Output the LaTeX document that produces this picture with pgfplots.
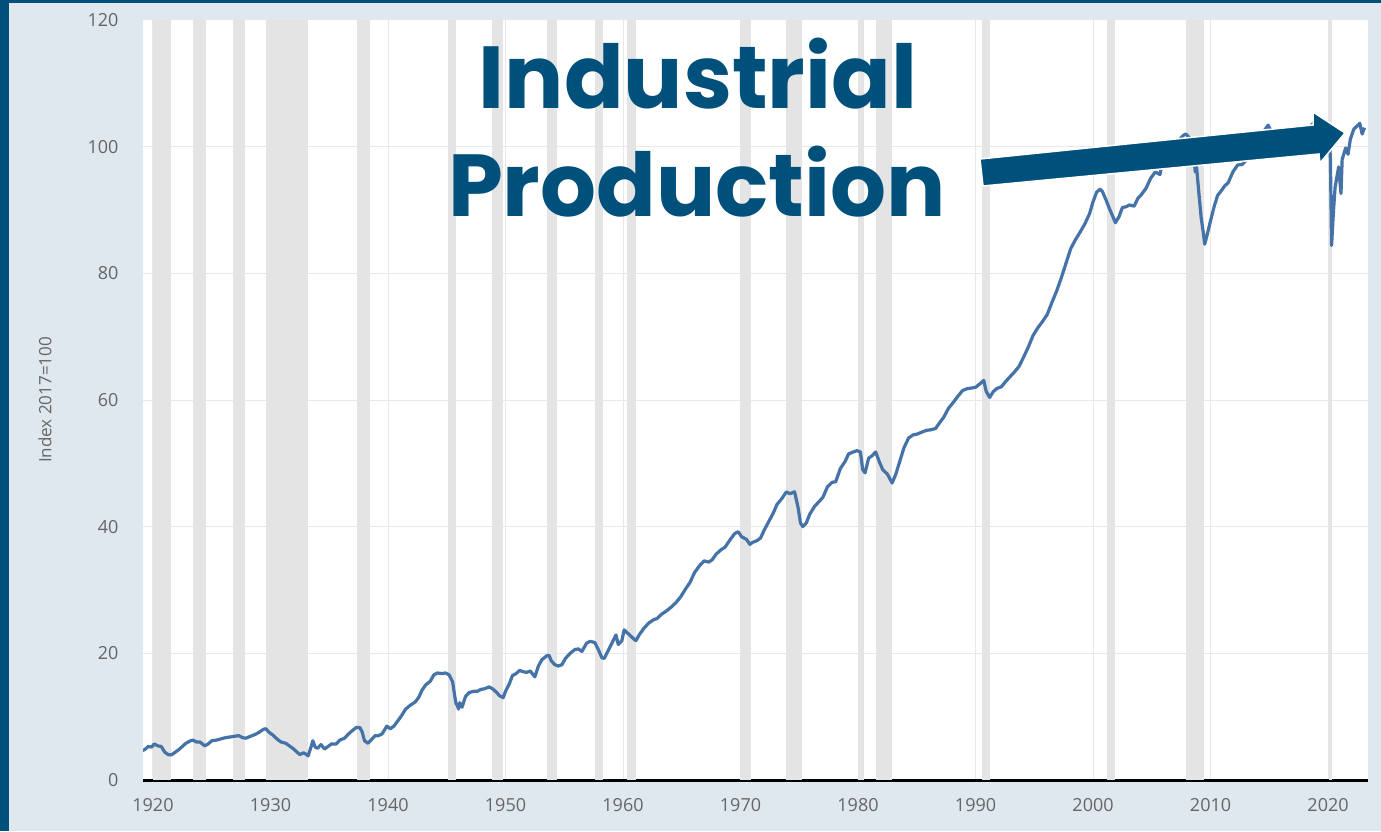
\documentclass[border=0pt]{standalone}
\usepackage{fontspec}
\setmainfont{Open Sans}
\newfontfamily\titlefont{Poppins}
\usepackage{pgfplots}
\pgfplotsset{compat=1.18}

\definecolor{bgblue}{HTML}{DFE7EF}
\definecolor{navy}{HTML}{00507C}
\definecolor{band}{HTML}{E4E4E4}
\definecolor{gridc}{HTML}{E8E8E8}
\definecolor{linec}{HTML}{4572A7}
\definecolor{tickc}{HTML}{666666}

\pgfplotsset{band/.style={fill=band, draw=none, forget plot}}

\begin{document}
\begin{tikzpicture}[x=1pt,y=1pt]
\useasboundingbox (0,0) rectangle (1381,831);
\fill[bgblue] (0,0) rectangle (1381,831);
\fill[navy] (0,0) rectangle (9,831);
\fill[navy] (0,828) rectangle (1381,831);

\begin{axis}[
    at={(143pt,51pt)}, anchor=south west,
    scale only axis, width=1225pt, height=760pt,
    xmin=1919.15, xmax=2023.4, ymin=0, ymax=120,
    axis background/.style={fill=white},
    axis x line*=bottom, axis y line*=left,
    x axis line style={black, line width=3pt, -},
    y axis line style={draw=none},
    xtick={1920,1930,...,2020}, ytick={0,20,...,120},
    tick align=outside,
    major tick length=15pt,
    xtick style={draw=gridc, line width=1pt},
    ytick style={draw=none},
    xmajorgrids, ymajorgrids,
    grid style={gridc, line width=1pt},
    tick label style={font=\fontsize{18}{20}\selectfont, text=tickc},
    xticklabel style={/pgf/number format/1000 sep={}},
    yticklabel style={xshift=-6pt},
    /pgf/number format/assume math mode=true,
    ylabel={Index 2017=100},
    every axis y label/.style={at={(axis description cs:-0.08,0.5)}, rotate=90, anchor=center,
        font=\fontsize{17}{19}\selectfont, text=tickc},
]
% recession bands (NBER)
\addplot[band] coordinates {(1920.00,0)(1920.00,120)(1921.55,120)(1921.55,0)} --cycle;
\addplot[band] coordinates {(1923.37,0)(1923.37,120)(1924.55,120)(1924.55,0)} --cycle;
\addplot[band] coordinates {(1926.80,0)(1926.80,120)(1927.87,120)(1927.87,0)} --cycle;
\addplot[band] coordinates {(1929.62,0)(1929.62,120)(1933.20,120)(1933.20,0)} --cycle;
\addplot[band] coordinates {(1937.37,0)(1937.37,120)(1938.45,120)(1938.45,0)} --cycle;
\addplot[band] coordinates {(1945.10,0)(1945.10,120)(1945.80,120)(1945.80,0)} --cycle;
\addplot[band] coordinates {(1948.87,0)(1948.87,120)(1949.80,120)(1949.80,0)} --cycle;
\addplot[band] coordinates {(1953.53,0)(1953.53,120)(1954.37,120)(1954.37,0)} --cycle;
\addplot[band] coordinates {(1957.62,0)(1957.62,120)(1958.30,120)(1958.30,0)} --cycle;
\addplot[band] coordinates {(1960.30,0)(1960.30,120)(1961.12,120)(1961.12,0)} --cycle;
\addplot[band] coordinates {(1969.95,0)(1969.95,120)(1970.87,120)(1970.87,0)} --cycle;
\addplot[band] coordinates {(1973.87,0)(1973.87,120)(1975.20,120)(1975.20,0)} --cycle;
\addplot[band] coordinates {(1980.00,0)(1980.00,120)(1980.53,120)(1980.53,0)} --cycle;
\addplot[band] coordinates {(1981.53,0)(1981.53,120)(1982.87,120)(1982.87,0)} --cycle;
\addplot[band] coordinates {(1990.53,0)(1990.53,120)(1991.20,120)(1991.20,0)} --cycle;
\addplot[band] coordinates {(2001.20,0)(2001.20,120)(2001.87,120)(2001.87,0)} --cycle;
\addplot[band] coordinates {(2007.95,0)(2007.95,120)(2009.45,120)(2009.45,0)} --cycle;
\addplot[band] coordinates {(2020.12,0)(2020.12,120)(2020.30,120)(2020.30,0)} --cycle;

% industrial production index
\addplot[linec, line width=3.2pt, line join=round, mark=none] table {
x y
1919.0 4.6
1919.3 4.8
1919.6 5.3
1919.9 5.2
1920.1 5.7
1920.4 5.4
1920.7 5.3
1921.0 4.4
1921.3 4.0
1921.6 4.0
1921.9 4.4
1922.2 4.8
1922.5 5.3
1922.8 5.8
1923.2 6.2
1923.4 6.3
1923.7 6.0
1924.0 6.0
1924.4 5.4
1924.7 5.7
1925.0 6.2
1925.4 6.3
1925.8 6.5
1926.2 6.7
1926.6 6.8
1926.9 6.9
1927.3 7.0
1927.6 6.7
1927.9 6.6
1928.3 6.9
1928.7 7.2
1929.0 7.5
1929.4 8.0
1929.6 8.1
1929.9 7.5
1930.2 7.1
1930.6 6.4
1930.9 6.0
1931.3 5.8
1931.6 5.4
1931.9 5.0
1932.2 4.5
1932.5 4.0
1932.8 4.3
1933.1 4.0
1933.2 3.8
1933.5 5.5
1933.6 6.2
1933.8 5.2
1934.0 5.0
1934.3 5.6
1934.6 4.9
1934.9 5.3
1935.2 5.7
1935.6 5.7
1935.9 6.3
1936.3 6.6
1936.6 7.2
1936.9 7.7
1937.3 8.3
1937.6 8.3
1937.8 7.6
1938.0 6.2
1938.3 5.8
1938.6 6.4
1938.9 7.0
1939.2 7.0
1939.5 7.3
1939.9 8.5
1940.2 8.1
1940.5 8.5
1940.9 9.5
1941.2 10.3
1941.5 11.2
1941.9 11.8
1942.3 12.3
1942.6 13.0
1942.9 14.2
1943.2 15.0
1943.6 15.6
1943.9 16.6
1944.2 16.9
1944.6 16.8
1944.9 16.9
1945.2 16.6
1945.5 15.5
1945.7 13.0
1945.8 12.0
1945.9 11.8
1946.0 11.2
1946.1 12.2
1946.3 11.5
1946.6 13.2
1946.9 13.8
1947.3 14.0
1947.6 14.0
1947.9 14.3
1948.2 14.4
1948.6 14.7
1948.9 14.4
1949.2 13.9
1949.5 13.3
1949.8 13.0
1950.0 14.0
1950.3 15.1
1950.6 16.5
1950.9 16.8
1951.2 17.3
1951.5 17.1
1951.8 17.0
1952.1 17.2
1952.5 16.3
1952.8 18.0
1953.1 19.0
1953.5 19.6
1953.7 19.7
1953.9 18.8
1954.2 18.2
1954.5 18.0
1954.8 18.2
1955.1 19.2
1955.5 20.0
1955.9 20.6
1956.2 20.7
1956.5 20.3
1956.9 21.6
1957.2 21.9
1957.6 21.7
1957.9 20.6
1958.2 19.3
1958.4 19.2
1958.7 20.3
1959.0 21.4
1959.4 22.9
1959.6 21.4
1959.9 22.0
1960.1 23.7
1960.5 23.0
1960.9 22.3
1961.1 22.0
1961.4 23.0
1961.8 24.0
1962.2 24.8
1962.6 25.3
1962.9 25.5
1963.3 26.2
1963.7 26.7
1964.1 27.3
1964.5 28.0
1964.9 28.9
1965.3 30.1
1965.7 31.2
1966.1 32.8
1966.5 33.8
1966.9 34.6
1967.3 34.4
1967.6 34.8
1967.9 35.6
1968.3 36.3
1968.7 36.8
1969.1 37.9
1969.5 38.9
1969.8 39.2
1970.1 38.4
1970.5 38.0
1970.8 37.2
1971.0 37.5
1971.4 37.8
1971.7 38.2
1972.0 39.4
1972.4 40.8
1972.8 42.2
1973.1 43.5
1973.5 44.4
1973.9 45.5
1974.2 45.2
1974.6 45.5
1974.9 43.0
1975.1 40.6
1975.3 40.0
1975.6 40.6
1975.9 42.0
1976.3 43.2
1976.7 44.0
1977.0 44.6
1977.4 46.3
1977.8 47.0
1978.1 47.1
1978.5 49.2
1978.9 50.3
1979.2 51.5
1979.6 51.8
1979.9 52.0
1980.2 51.8
1980.4 49.0
1980.6 48.5
1980.9 50.8
1981.2 51.2
1981.5 51.8
1981.8 50.3
1982.1 49.0
1982.5 48.3
1982.9 46.9
1983.2 48.2
1983.6 50.6
1983.9 52.4
1984.3 54.0
1984.7 54.5
1985.0 54.6
1985.4 54.9
1985.8 55.2
1986.2 55.3
1986.6 55.5
1986.9 56.3
1987.3 57.3
1987.7 58.7
1988.1 59.6
1988.5 60.6
1988.9 61.5
1989.3 61.8
1989.7 61.9
1990.0 62.0
1990.4 62.6
1990.7 63.1
1990.9 61.4
1991.2 60.4
1991.5 61.3
1991.8 61.8
1992.2 62.1
1992.6 63.0
1992.9 63.6
1993.3 64.4
1993.7 65.3
1994.1 66.8
1994.5 68.4
1994.9 70.2
1995.3 71.4
1995.7 72.4
1996.1 73.5
1996.5 75.4
1996.9 77.2
1997.3 79.3
1997.7 81.6
1998.1 83.9
1998.5 85.3
1998.9 86.5
1999.3 87.8
1999.7 89.4
2000.0 91.3
2000.3 92.8
2000.6 93.3
2000.8 92.9
2001.1 91.6
2001.4 90.2
2001.7 88.9
2001.9 88.0
2002.2 88.9
2002.5 90.4
2002.8 90.5
2003.1 90.8
2003.5 90.6
2003.8 91.8
2004.1 92.4
2004.5 93.4
2004.9 95.0
2005.3 96.0
2005.7 95.6
2005.9 97.6
2006.3 98.6
2006.7 99.8
2006.9 99.5
2007.3 101.0
2007.7 101.8
2007.9 102.0
2008.2 101.4
2008.5 99.9
2008.7 96.0
2008.8 97.0
2009.0 92.8
2009.2 88.8
2009.4 86.2
2009.5 84.6
2009.7 86.0
2010.0 88.3
2010.3 90.5
2010.6 92.3
2010.9 93.0
2011.2 93.8
2011.5 94.3
2011.9 96.0
2012.3 97.1
2012.7 97.2
2013.0 97.8
2013.4 98.5
2013.8 99.7
2014.2 101.5
2014.6 102.6
2014.9 103.4
2015.2 102.3
2015.6 101.6
2015.9 100.2
2016.2 99.3
2016.5 99.9
2016.9 99.6
2017.3 100.4
2017.7 99.3
2017.9 101.8
2018.3 102.8
2018.7 103.6
2018.9 104.0
2019.2 103.0
2019.6 102.6
2019.9 102.4
2020.1 102.1
2020.2 98.0
2020.3 84.4
2020.45 89.5
2020.6 93.6
2020.9 96.8
2021.1 92.6
2021.2 98.0
2021.5 99.8
2021.7 98.8
2021.9 101.2
2022.2 102.8
2022.5 103.3
2022.7 103.7
2022.9 102.0
2023.1 103.0
};
\end{axis}

% arrow pointing at the latest reading
\fill[navy, draw=white, line width=1.5pt, line join=miter]
  (980,672) -- (1313,706) -- (1313,719) -- (1345,698) -- (1320,668)
  -- (1319,677) -- (983,645) -- cycle;

% title
\node[anchor=base, text=navy, inner sep=0pt, font=\titlefont\bfseries\fontsize{88}{96}\selectfont] at (698,722) {Industrial};
\node[anchor=base, text=navy, inner sep=0pt, font=\titlefont\bfseries\fontsize{88}{96}\selectfont] at (697,614) {Production};
\end{tikzpicture}
\end{document}
